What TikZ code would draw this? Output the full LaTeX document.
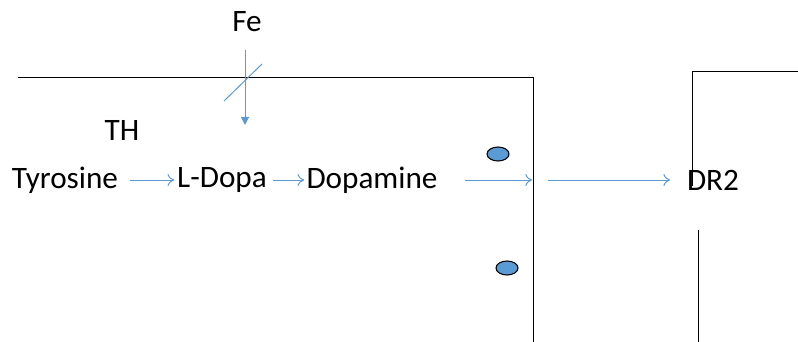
\documentclass[tikz,border=0pt]{standalone}
\usepackage{fontspec}
\setmainfont{Carlito}
\usepackage{tikz}
\usetikzlibrary{arrows.meta}

\definecolor{sigblue}{HTML}{5B9BD5}
\tikzset{
	label/.style={font=\fontsize{23.4}{28}\selectfont, inner sep=0pt},
	flow/.style={sigblue, line width=0.75pt, -{To[length=5pt,width=9pt]}},
	vesicle/.style={draw=black, fill=sigblue, thick}
}

\begin{document}
	\begin{tikzpicture}[x=0.75pt, y=-0.75pt]
		\useasboundingbox (0, 0) rectangle (798, 342);
		%% membranes
		\draw[line width=0.75pt] (18, 78) -- (533, 78) -- (533, 342);
		\draw[line width=0.75pt] (798, 72) -- (692, 72) -- (692, 186);
		\draw[line width=0.75pt] (698, 230) -- (698, 342);
		%%
		\node[label] (fe) at (247, 22) {Fe};
		\node[label] (th) at (122, 130) {TH};
		\node[label] (tyr) at (65, 180) {Tyrosine};
		\node[label] (ldopa) at (222, 180) {L-Dopa};
		\node[label] (dopa) at (372, 180) {Dopamine};
		\node[label] (dr) at (713, 180) {DR2};
		%%
		\coordinate (feTop) at (245, 50);
		\coordinate (feEnd) at (245, 125);
		\draw[sigblue, line width=0.75pt, -{Triangle[length=6pt,width=6pt]}] (feTop) -- (feEnd);
		\draw[sigblue, line width=0.75pt] (224, 101) -- (262, 64);
		%%
		\draw[flow] ([xshift=9pt]tyr.east) -- ([xshift=-2pt]ldopa.west);
		\draw[flow] ([xshift=4.5pt]ldopa.east) -- ([xshift=-1.5pt]dopa.west);
		\coordinate (relStart) at (465, 180);
		\coordinate (relEnd) at (532, 180);
		\coordinate (synStart) at (548, 180);
		\draw[flow] (relStart) -- (relEnd);
		\draw[flow] (synStart) -- ([xshift=-12.5pt]dr.west);
		%%
		\draw[vesicle] (498, 154) ellipse (11 and 7);
		\draw[vesicle] (507, 268) ellipse (11 and 7);
	\end{tikzpicture}
\end{document}
